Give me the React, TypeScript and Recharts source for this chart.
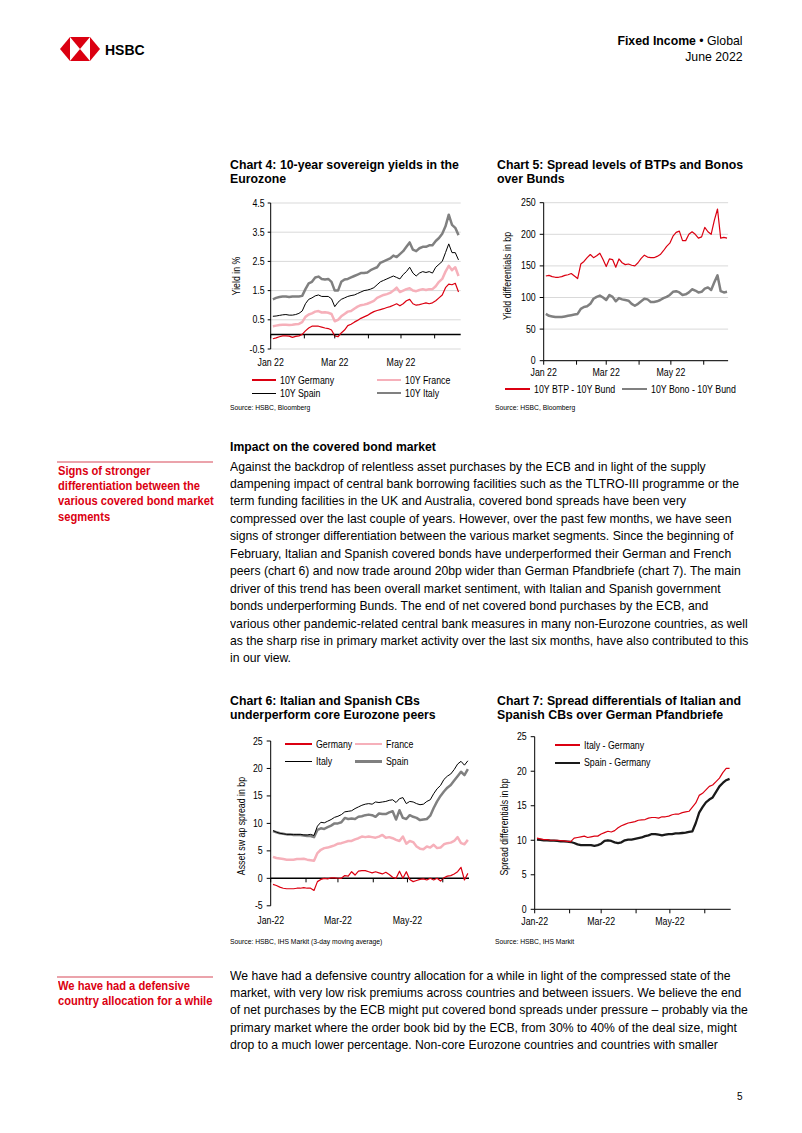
import React from 'react';
import { LineChart, Line, XAxis, YAxis, CartesianGrid, ReferenceLine, Legend } from 'recharts';

const SANS = '"Liberation Sans", Arial, Helvetica, sans-serif';
const RED = '#DB0011';
const PINK = '#F6B0BA';
const GREY = '#808080';
const GRID = '#D9D9D9';
// no narrow face is installed, so narrow text is squeezed horizontally
const CHART_SQUEEZE = 0.88;

// day of year (1 Jan = 0), one reading roughly every third day
const days = [
  2, 5, 8, 11, 14, 17, 20, 23, 26, 29, 32, 35, 38, 41, 44, 47, 50, 53, 56, 59,
  62, 65, 68, 71, 74, 77, 80, 83, 86, 89, 92, 95, 98, 101, 104, 107, 110, 113, 116, 119,
  122, 125, 128, 131, 134, 137, 140, 143, 146, 149, 152, 155, 158, 161, 164, 167, 170, 173,
];
const monthTicks = [0, 31, 59, 90, 120, 151];
const monthLabelsSpace = ['Jan 22', '', 'Mar 22', '', 'May 22', ''];
const monthLabelsDash = ['Jan-22', '', 'Mar-22', '', 'May-22', ''];

// Chart 4: 10Y yields, %
const yieldGermany = [
  -0.15, -0.12, -0.08, -0.05, -0.05, -0.06, -0.1, -0.07, -0.05, 0.0,
  0.12, 0.22, 0.28, 0.28, 0.28, 0.25, 0.22, 0.2, 0.15, -0.05,
  -0.08, 0.05, 0.15, 0.3, 0.35, 0.42, 0.48, 0.55, 0.6, 0.65,
  0.72, 0.78, 0.82, 0.85, 0.88, 0.92, 0.95, 1.0, 1.05, 0.98,
  1.05, 1.15, 1.2, 1.05, 1.0, 1.02, 1.05, 1.08, 1.05, 1.08,
  1.15, 1.25, 1.35, 1.6, 1.72, 1.7, 1.75, 1.45,
];
const yieldFrance = [
  0.28, 0.3, 0.32, 0.33, 0.33, 0.32, 0.33, 0.35, 0.36, 0.42,
  0.6, 0.68, 0.72, 0.78, 0.8, 0.75, 0.76, 0.74, 0.7, 0.45,
  0.5, 0.62, 0.7, 0.78, 0.8, 0.88, 0.95, 1.0, 1.02, 1.05,
  1.1, 1.15, 1.25, 1.3, 1.35, 1.38, 1.42, 1.5, 1.6, 1.45,
  1.5, 1.55, 1.58, 1.5, 1.48, 1.52, 1.55, 1.52, 1.55, 1.55,
  1.65, 1.8, 1.9, 2.15, 2.35, 2.2, 2.3, 2.0,
];
const yieldSpain = [
  0.62, 0.63, 0.65, 0.67, 0.68, 0.66, 0.66, 0.68, 0.72, 0.8,
  1.05, 1.2, 1.25, 1.32, 1.35, 1.3, 1.3, 1.3, 1.22, 0.95,
  1.1, 1.2, 1.25, 1.3, 1.33, 1.35, 1.4, 1.45, 1.5, 1.52,
  1.55, 1.6, 1.7, 1.8, 1.85, 1.9, 1.95, 2.0, 1.95, 1.9,
  2.05, 2.15, 2.3, 2.1, 2.0, 2.1, 2.15, 2.12, 2.15, 2.1,
  2.3, 2.4, 2.5, 2.8, 3.1, 2.8, 2.8, 2.55,
];
const yieldItaly = [
  1.2, 1.25, 1.28, 1.3, 1.3, 1.28, 1.3, 1.3, 1.3, 1.32,
  1.55, 1.75, 1.8, 1.95, 1.98, 1.9, 1.88, 1.9, 1.8, 1.5,
  1.5, 1.8, 1.88, 1.9, 1.95, 2.0, 2.05, 2.1, 2.1, 2.12,
  2.2, 2.25, 2.3, 2.45, 2.5, 2.55, 2.6, 2.7, 2.65, 2.75,
  2.85, 3.0, 3.15, 2.9, 2.85, 2.95, 3.0, 3.0, 3.05, 3.05,
  3.2, 3.3, 3.45, 3.7, 4.1, 3.75, 3.65, 3.4,
];
const yieldTicks = [-0.5, 0.5, 1.5, 2.5, 3.5, 4.5];

// Chart 5: spreads over Bunds, bp
const spreadBtp = [
  134, 135, 133, 132, 132, 133, 135, 136, 138, 134,
  130, 153, 157, 163, 168, 163, 166, 170, 160, 149,
  161, 160, 148, 161, 155, 152, 153, 151, 150, 155,
  162, 167, 164, 163, 163, 165, 168, 174, 181, 186,
  197, 203, 205, 190, 190, 200, 204, 200, 194, 196,
  211, 204, 200, 222, 240, 194, 195, 194,
];
const spreadBono = [
  74, 71, 70, 69, 69, 69, 70, 71, 72, 73,
  74, 82, 85, 86, 90, 98, 101, 103, 100, 96,
  104, 101, 94, 99, 97, 96, 95, 90, 87, 90,
  94, 98, 97, 93, 93, 94, 96, 99, 101, 104,
  109, 110, 108, 104, 105, 108, 113, 111, 108, 109,
  114, 116, 112, 124, 135, 110, 108, 109,
];
const spreadTicks = [0, 50, 100, 150, 200, 250];

// Chart 6: covered bond asset swap spreads, bp
const aswGermany = [
  -1.1, -1.3, -1.6, -1.8, -1.9, -1.9, -1.9, -1.8, -1.8, -1.7,
  -1.8, -1.8, -2.2, -0.6, -0.2, 0.0, -0.1, 0.1, 0.1, 0.0,
  0.0, 0.5, 0.4, 1.2, 0.6, 1.3, 1.4, 1.4, 1.2, 1.0,
  1.2, 1.0, 0.8, 1.1, 0.7, 0.2, 0.0, 1.3, 0.0, 1.2,
  -0.2, -0.6, -0.4, -0.2, -0.1, -0.3, 0.0, -0.3, 0.0, -0.5,
  0.1, 0.4, 0.5, 0.8, 1.2, 2.0, -0.3, 0.9,
];
const aswFrance = [
  3.9, 3.7, 3.6, 3.5, 3.4, 3.4, 3.4, 3.5, 3.5, 3.55,
  3.4, 3.3, 3.2, 4.6, 5.2, 5.5, 5.6, 5.8, 6.0, 6.3,
  6.4, 6.6, 6.8, 6.8, 7.1, 7.3, 7.6, 7.5, 7.6, 7.5,
  7.4, 7.6, 7.9, 7.4, 7.5, 7.3, 7.0, 6.8, 7.6, 6.3,
  6.8, 6.6, 5.8, 5.4, 5.3, 5.8, 5.6, 6.1, 5.5, 5.6,
  6.2, 6.4, 6.5, 6.8, 7.5, 6.4, 6.2, 7.0,
];
const aswItaly = [
  8.7, 8.4, 8.2, 8.1, 8.0, 8.0, 8.0, 8.0, 8.0, 7.9,
  7.9, 8.0, 7.8, 9.5, 10.2, 10.1, 10.4, 10.7, 11.1, 11.3,
  11.6, 12.1, 12.2, 12.3, 12.7, 13.0, 13.3, 13.5, 13.6, 13.5,
  13.9, 13.8, 13.9, 14.0, 14.2, 14.3, 13.8, 14.5, 14.7, 13.6,
  14.0, 13.9, 13.6, 13.4, 13.5, 14.0, 14.3, 15.4, 16.3, 16.9,
  18.0, 18.6, 19.0, 19.8, 20.8, 21.3, 20.6, 21.4,
];
const aswSpain = [
  8.6, 8.4, 8.2, 8.1, 8.0, 8.0, 7.9, 7.9, 7.9, 7.8,
  7.7, 7.7, 7.5, 8.8, 9.1, 9.0, 9.3, 9.6, 10.0, 10.0,
  10.2, 11.0, 10.8, 10.9, 10.8, 11.2, 11.3, 11.5, 11.6, 11.5,
  11.2, 11.8, 11.7, 11.7, 12.0, 12.2, 10.7, 12.4, 11.0, 10.8,
  11.5, 11.2, 11.0, 10.6, 10.7, 10.8, 11.4, 12.8, 14.0, 15.0,
  15.8, 16.5, 17.0, 17.8, 18.6, 19.4, 18.8, 19.9,
];
const aswTicks = [-5, 0, 5, 10, 15, 20, 25];

// Chart 7: differentials over Pfandbriefe, bp
const diffItaly = [
  10.3, 10.2, 10.1, 10.1, 10.0, 10.0, 10.0, 9.95, 9.9, 9.85,
  9.8, 10.3, 10.4, 10.5, 10.6, 10.4, 10.5, 10.6, 10.6, 10.9,
  11.1, 11.3, 11.2, 11.4, 11.8, 12.1, 12.3, 12.5, 12.6, 12.7,
  12.9, 12.95, 13.0, 13.2, 13.3, 13.3, 13.2, 13.4, 13.4, 13.5,
  13.7, 13.8, 13.8, 14.0, 14.1, 14.2, 14.8, 15.4, 16.5, 16.8,
  17.3, 17.8, 18.0, 18.5, 19.0, 19.8, 20.4, 20.4,
];
const diffSpain = [
  10.1, 10.05, 10.0, 10.0, 9.95, 9.95, 9.9, 9.85, 9.85, 9.8,
  9.75, 9.6, 9.4, 9.3, 9.3, 9.3, 9.3, 9.2, 9.3, 9.5,
  9.9, 10.0, 9.9, 9.7, 9.6, 9.7, 10.0, 10.1, 10.1, 10.2,
  10.3, 10.4, 10.6, 10.7, 10.9, 10.9, 10.8, 10.7, 10.8, 10.9,
  10.9, 11.0, 11.0, 11.05, 11.1, 11.2, 11.3, 12.5, 14.0, 14.8,
  15.5, 15.9, 16.2, 17.0, 17.8, 18.3, 18.7, 18.9,
];
const diffTicks = [0, 5, 10, 15, 20, 25];

const para1 = [
  'Against the backdrop of relentless asset purchases by the ECB and in light of the supply',
  'dampening impact of central bank borrowing facilities such as the TLTRO-III programme or the',
  'term funding facilities in the UK and Australia, covered bond spreads have been very',
  'compressed over the last couple of years. However, over the past few months, we have seen',
  'signs of stronger differentiation between the various market segments. Since the beginning of',
  'February, Italian and Spanish covered bonds have underperformed their German and French',
  'peers (chart 6) and now trade around 20bp wider than German Pfandbriefe (chart 7). The main',
  'driver of this trend has been overall market sentiment, with Italian and Spanish government',
  'bonds underperforming Bunds. The end of net covered bond purchases by the ECB, and',
  'various other pandemic-related central bank measures in many non-Eurozone countries, as well',
  'as the sharp rise in primary market activity over the last six months, have also contributed to this',
  'in our view.',
];
const para2 = [
  'We have had a defensive country allocation for a while in light of the compressed state of the',
  'market, with very low risk premiums across countries and between issuers. We believe the end',
  'of net purchases by the ECB might put covered bond spreads under pressure \u2013 probably via the',
  'primary market where the order book bid by the ECB, from 30% to 40% of the deal size, might',
  'drop to a much lower percentage. Non-core Eurozone countries and countries with smaller',
];
const side1 = ['Signs of stronger', 'differentiation between the', 'various covered bond market', 'segments'];
const side2 = ['We have had a defensive', 'country allocation for a while'];

interface Series {
  key: string;
  name: string;
  values: number[];
  color: string;
  width: number;
}

interface ChartSpec {
  left: number;
  top: number;
  width: number;
  height: number;
  margin: { top: number; right: number; bottom: number; left: number };
  yWidth: number;
  xHeight: number;
  xMax: number;
  yDomain: [number, number];
  yTicks: number[];
  yFormat: (v: number) => string;
  yTickSize: number;
  yTickMargin: number;
  grid: boolean;
  zeroLine: boolean;
  labels: string[];
  labelDy: number;
  series: Series[];
  slots: Record<string, { x: number; y: number }>;
  legendLine: number;
}

function MonthTick(props: any) {
  const { x, y, payload, labels, zeroOffset, labelDy } = props;
  const i = monthTicks.indexOf(payload.value);
  const markY = y - zeroOffset;
  return (
    <g>
      <line x1={x} x2={x} y1={markY} y2={markY + 4} stroke="#000" strokeWidth={1} />
      <text
        transform={`translate(${x} ${y + labelDy}) scale(${CHART_SQUEEZE} 1)`}
        textAnchor="middle"
        fontSize={10}
        fontFamily={SANS}
        fill="#000"
      >
        {labels[i] ?? ''}
      </text>
    </g>
  );
}

function ValueTick(props: any) {
  const { x, y, payload, format } = props;
  return (
    <text
      transform={`translate(${x} ${y}) scale(${CHART_SQUEEZE} 1)`}
      textAnchor="end"
      dy="0.355em"
      fontSize={10}
      fontFamily={SANS}
      fill="#000"
    >
      {format(payload.value)}
    </text>
  );
}

function TimeChart({ spec }: { spec: ChartSpec }) {
  const { left, top, width, height, margin, yWidth, xHeight, xMax, yDomain, series } = spec;
  const data = days.map((d, i) => {
    const row: Record<string, number> = { d };
    series.forEach((s) => {
      row[s.key] = s.values[i];
    });
    return row;
  });
  const plotH = height - margin.top - margin.bottom - xHeight;
  const zeroOffset = yDomain[0] < 0 ? (plotH * -yDomain[0]) / (yDomain[1] - yDomain[0]) : 0;
  const widthByName: Record<string, number> = {};
  series.forEach((s) => {
    widthByName[s.name] = s.width;
  });

  const renderLegend = (props: any) => {
    const payload: any[] = props.payload ?? [];
    return (
      <div style={{ position: 'relative' }}>
        {payload.map((p) => {
          const slot = spec.slots[p.value];
          if (!slot) return null;
          return (
            <div
              key={p.value}
              style={{
                position: 'absolute',
                left: slot.x,
                top: slot.y - 8,
                height: 16,
                display: 'flex',
                alignItems: 'center',
                whiteSpace: 'nowrap',
                fontFamily: SANS,
                fontSize: 10,
                color: '#000',
              }}
            >
              <span
                style={{
                  display: 'inline-block',
                  width: spec.legendLine,
                  height: widthByName[p.value] ?? 1,
                  background: p.color,
                  marginRight: 4,
                }}
              />
              <span style={{ display: 'inline-block', transform: `scaleX(${CHART_SQUEEZE})`, transformOrigin: 'left center' }}>
                {p.value}
              </span>
            </div>
          );
        })}
      </div>
    );
  };

  return (
    <div style={{ position: 'absolute', left, top }}>
      <LineChart width={width} height={height} data={data} margin={margin}>
        {spec.grid && <CartesianGrid horizontal vertical={false} stroke={GRID} />}
        <XAxis
          type="number"
          dataKey="d"
          domain={[0, xMax]}
          ticks={monthTicks}
          interval={0}
          height={xHeight}
          axisLine={spec.zeroLine ? false : { stroke: '#000' }}
          tickLine={false}
          tickSize={0}
          tickMargin={0}
          allowDataOverflow
          tick={(p: any) => (
            <MonthTick {...p} labels={spec.labels} zeroOffset={zeroOffset} labelDy={spec.labelDy} />
          )}
        />
        <YAxis
          type="number"
          domain={yDomain}
          ticks={spec.yTicks}
          interval={0}
          width={yWidth}
          allowDataOverflow
          axisLine={{ stroke: '#000' }}
          tickLine={{ stroke: '#000' }}
          tickSize={spec.yTickSize}
          tickMargin={spec.yTickMargin}
          tick={(p: any) => <ValueTick {...p} format={spec.yFormat} />}
        />
        {spec.zeroLine && <ReferenceLine y={0} stroke="#000" strokeWidth={1.5} />}
        <Legend
          layout="horizontal"
          verticalAlign="middle"
          align="center"
          content={renderLegend}
          wrapperStyle={{ left: 0, top: 0, width, height: 0 }}
        />
        {series.map((s) => (
          <Line
            key={s.key}
            type="linear"
            dataKey={s.key}
            name={s.name}
            stroke={s.color}
            strokeWidth={s.width}
            strokeLinejoin="round"
            dot={false}
            activeDot={false}
            isAnimationActive={false}
          />
        ))}
      </LineChart>
    </div>
  );
}

const chart4: ChartSpec = {
  left: 220,
  top: 195,
  width: 250,
  height: 215,
  margin: { top: 8, right: 9.3, bottom: 40, left: 0 },
  yWidth: 50.7,
  xHeight: 21,
  xMax: 175,
  yDomain: [-0.5, 4.5],
  yTicks: yieldTicks,
  yFormat: (v) => v.toFixed(1),
  yTickSize: 3,
  yTickMargin: 3,
  grid: true,
  zeroLine: true,
  labels: monthLabelsSpace,
  labelDy: 16.7,
  legendLine: 24,
  series: [
    { key: 'it', name: '10Y Italy', values: yieldItaly, color: GREY, width: 2.5 },
    { key: 'es', name: '10Y Spain', values: yieldSpain, color: '#000', width: 1 },
    { key: 'fr', name: '10Y France', values: yieldFrance, color: PINK, width: 2.5 },
    { key: 'de', name: '10Y Germany', values: yieldGermany, color: RED, width: 1.2 },
  ],
  slots: {
    '10Y Germany': { x: 32, y: 185 },
    '10Y France': { x: 157, y: 185 },
    '10Y Spain': { x: 32, y: 198 },
    '10Y Italy': { x: 157, y: 198 },
  },
};

const chart5: ChartSpec = {
  left: 490,
  top: 195,
  width: 250,
  height: 215,
  margin: { top: 7.7, right: 11.9, bottom: 29.3, left: 0 },
  yWidth: 53.7,
  xHeight: 20,
  xMax: 174,
  yDomain: [0, 250],
  yTicks: spreadTicks,
  yFormat: (v) => String(v),
  yTickSize: 4,
  yTickMargin: 4,
  grid: true,
  zeroLine: false,
  labels: monthLabelsSpace,
  labelDy: 15.5,
  legendLine: 25,
  series: [
    { key: 'bono', name: '10Y Bono - 10Y Bund', values: spreadBono, color: GREY, width: 2.5 },
    { key: 'btp', name: '10Y BTP - 10Y Bund', values: spreadBtp, color: RED, width: 1.2 },
  ],
  slots: {
    '10Y BTP - 10Y Bund': { x: 15, y: 194 },
    '10Y Bono - 10Y Bund': { x: 132, y: 194 },
  },
};

const chart6: ChartSpec = {
  left: 220,
  top: 730,
  width: 255,
  height: 200,
  margin: { top: 11, right: 6, bottom: 2.2, left: 0 },
  yWidth: 50.7,
  xHeight: 22,
  xMax: 174,
  yDomain: [-5, 25],
  yTicks: aswTicks,
  yFormat: (v) => String(v),
  yTickSize: 4,
  yTickMargin: 4,
  grid: false,
  zeroLine: true,
  labels: monthLabelsDash,
  labelDy: 17.8,
  legendLine: 27,
  series: [
    { key: 'es', name: 'Spain', values: aswSpain, color: GREY, width: 2.5 },
    { key: 'it', name: 'Italy', values: aswItaly, color: '#000', width: 1 },
    { key: 'fr', name: 'France', values: aswFrance, color: PINK, width: 2.5 },
    { key: 'de', name: 'Germany', values: aswGermany, color: RED, width: 1.2 },
  ],
  slots: {
    Germany: { x: 65, y: 14 },
    France: { x: 135, y: 14 },
    Italy: { x: 65, y: 31.7 },
    Spain: { x: 135, y: 31.7 },
  },
};

const chart7: ChartSpec = {
  left: 490,
  top: 728,
  width: 250,
  height: 202,
  margin: { top: 8.7, right: 9.3, bottom: 0.7, left: 0 },
  yWidth: 44.7,
  xHeight: 20,
  xMax: 174,
  yDomain: [0, 25],
  yTicks: diffTicks,
  yFormat: (v) => String(v),
  yTickSize: 4,
  yTickMargin: 4,
  grid: false,
  zeroLine: false,
  labels: monthLabelsDash,
  labelDy: 15.3,
  legendLine: 25,
  series: [
    { key: 'es', name: 'Spain - Germany', values: diffSpain, color: '#1A1A1A', width: 2.3 },
    { key: 'it', name: 'Italy - Germany', values: diffItaly, color: RED, width: 1.2 },
  ],
  slots: {
    'Italy - Germany': { x: 65, y: 17 },
    'Spain - Germany': { x: 65, y: 34.7 },
  },
};

function Row({
  x,
  cy,
  size,
  h,
  bold,
  color = '#000',
  squeeze = 1,
  children,
}: {
  x: number;
  cy: number;
  size: number;
  h: number;
  bold?: boolean;
  color?: string;
  squeeze?: number;
  children: React.ReactNode;
}) {
  return (
    <div
      style={{
        position: 'absolute',
        left: x,
        top: cy - h / 2,
        height: h,
        lineHeight: `${h}px`,
        fontSize: size,
        fontWeight: bold ? 700 : 400,
        fontFamily: SANS,
        color,
        whiteSpace: 'nowrap',
        transform: squeeze !== 1 ? `scaleX(${squeeze})` : undefined,
        transformOrigin: 'left center',
      }}
    >
      {children}
    </div>
  );
}

function AxisTitle({ text, cx, cy }: { text: string; cx: number; cy: number }) {
  return (
    <div
      style={{
        position: 'absolute',
        left: cx,
        top: cy,
        transform: `translate(-50%, -50%) rotate(-90deg) scaleX(${CHART_SQUEEZE})`,
        fontFamily: SANS,
        fontSize: 10,
        whiteSpace: 'nowrap',
        lineHeight: '12px',
      }}
    >
      {text}
    </div>
  );
}

function Logo() {
  return (
    <svg width={42} height={26} style={{ position: 'absolute', left: 59, top: 36 }}>
      <polygon points="1,13 11,1 11,25" fill={RED} />
      <polygon points="11,1 31,1 21,13" fill={RED} />
      <polygon points="11,25 31,25 21,13" fill={RED} />
      <polygon points="31,1 41,13 31,25" fill={RED} />
    </svg>
  );
}

export default function App() {
  const bodyStep = 17.45;
  const body = 0.903;
  return (
    <div
      style={{
        position: 'absolute',
        left: 0,
        top: 0,
        width: 802,
        height: 1133,
        background: '#fff',
        color: '#000',
        fontFamily: SANS,
        overflow: 'hidden',
      }}
    >
      <Logo />
      <Row x={105} cy={50} size={14} h={18} bold>
        HSBC
      </Row>
      <div
        style={{
          position: 'absolute',
          right: 59,
          top: 33,
          textAlign: 'right',
          fontFamily: SANS,
          fontSize: 13.5,
          lineHeight: '16px',
          whiteSpace: 'nowrap',
          transform: 'scaleX(0.91)',
          transformOrigin: 'right center',
        }}
      >
        <div>
          <b>Fixed Income</b> {'\u2022'} Global
        </div>
        <div>June 2022</div>
      </div>

      <Row x={230} cy={165} size={12.3} h={15} bold>
        Chart 4: 10-year sovereign yields in the
      </Row>
      <Row x={230} cy={179.5} size={12.3} h={15} bold>
        Eurozone
      </Row>
      <Row x={497} cy={165} size={12.3} h={15} bold>
        Chart 5: Spread levels of BTPs and Bonos
      </Row>
      <Row x={497} cy={179.5} size={12.3} h={15} bold>
        over Bunds
      </Row>
      <AxisTitle text="Yield in %" cx={237} cy={276} />
      <AxisTitle text="Yield differentials in bp" cx={508} cy={276} />
      <TimeChart spec={chart4} />
      <TimeChart spec={chart5} />
      <Row x={230} cy={408} size={7.5} h={10} squeeze={0.9}>
        Source: HSBC, Bloomberg
      </Row>
      <Row x={495} cy={408} size={7.5} h={10} squeeze={0.9}>
        Source: HSBC, Bloomberg
      </Row>

      <div style={{ position: 'absolute', left: 57, top: 461, width: 156, height: 2, background: '#EBA3AB' }} />
      {side1.map((t, i) => (
        <Row key={t} x={58} cy={471 + i * 15.4} size={12} h={15} bold color={RED} squeeze={0.93}>
          {t}
        </Row>
      ))}
      <Row x={230} cy={446} size={13.5} h={17} bold squeeze={body}>
        Impact on the covered bond market
      </Row>
      {para1.map((t, i) => (
        <Row key={t} x={230} cy={466 + i * bodyStep} size={13.5} h={17} squeeze={body}>
          {t}
        </Row>
      ))}

      <Row x={230} cy={701} size={12.3} h={15} bold>
        Chart 6: Italian and Spanish CBs
      </Row>
      <Row x={230} cy={715.5} size={12.3} h={15} bold>
        underperform core Eurozone peers
      </Row>
      <Row x={497} cy={701} size={12.3} h={15} bold>
        Chart 7: Spread differentials of Italian and
      </Row>
      <Row x={497} cy={715.5} size={12.3} h={15} bold>
        Spanish CBs over German Pfandbriefe
      </Row>
      <AxisTitle text="Asset sw ap spread in bp" cx={241.7} cy={826} />
      <AxisTitle text="Spread differentials in bp" cx={505} cy={827} />
      <TimeChart spec={chart6} />
      <TimeChart spec={chart7} />
      <Row x={230} cy={942} size={7.5} h={10} squeeze={0.9}>
        Source: HSBC, IHS Markit (3-day moving average)
      </Row>
      <Row x={495} cy={942} size={7.5} h={10} squeeze={0.9}>
        Source: HSBC, IHS Markit
      </Row>

      <div style={{ position: 'absolute', left: 57, top: 976, width: 156, height: 2, background: '#EBA3AB' }} />
      {side2.map((t, i) => (
        <Row key={t} x={58} cy={986 + i * 15.4} size={12} h={15} bold color={RED} squeeze={0.93}>
          {t}
        </Row>
      ))}
      {para2.map((t, i) => (
        <Row key={t} x={230} cy={975 + i * bodyStep} size={13.5} h={17} squeeze={body}>
          {t}
        </Row>
      ))}

      <Row x={737} cy={1097} size={10} h={12}>
        5
      </Row>
    </div>
  );
}
